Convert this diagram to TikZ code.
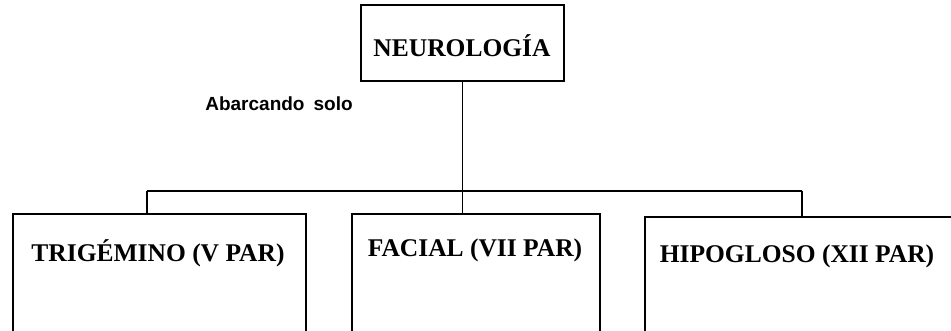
\documentclass[tikz,border=0pt]{standalone}
\usepackage{fontspec}
\setmainfont{Liberation Serif}
\newfontfamily\notefont{Liberation Sans}
\begin{document}
\begin{tikzpicture}[x=1pt,y=-1pt,
  box/.style={draw=black, line width=1.8pt, fill=white, inner sep=0pt},
  boxtext/.style={font=\fontsize{25.5}{29}\selectfont\bfseries, inner sep=0pt},
  link/.style={draw=black, line width=1.8pt}]
\useasboundingbox (0,0) rectangle (951,331);
\clip (0,0) rectangle (951,331);
% head of the chart
\node[box, minimum width=203pt, minimum height=76pt] (neuro) at (462.5,43) {};
\node[boxtext] (neurot) at (462,46) {NEUROLOGÍA};
% side note
\node[font=\notefont\fontsize{19}{22}\selectfont\bfseries, inner sep=0pt] (note) at (279,104) {Abarcando\hspace{9pt}solo};
% the three branches (their lower part runs past the page)
\node[box, anchor=north west, minimum width=293pt, minimum height=150pt] (trig) at (12,213) {};
\node[box, anchor=north west, minimum width=248pt, minimum height=150pt] (fac) at (351,213) {};
\node[box, anchor=north west, minimum width=340pt, minimum height=150pt] (hipo) at (644,216) {};
\node[boxtext] (trigt) at (158,253) {TRIGÉMINO (V PAR)};
\node[boxtext] (fact) at (475,250) {FACIAL (VII PAR)};
\node[boxtext] (hipot) at (797,256) {HIPOGLOSO (XII PAR)};
% connectors
\coordinate (busL) at (147,191);
\coordinate (busR) at (802,191);
\draw[link] (busL) -- (busR);
\draw[link] (neuro.south) -- (neuro.south |- fac.north);
\draw[link] (busL) -- (busL |- trig.north);
\draw[link] (busR) -- (busR |- hipo.north);
\end{tikzpicture}
\end{document}
